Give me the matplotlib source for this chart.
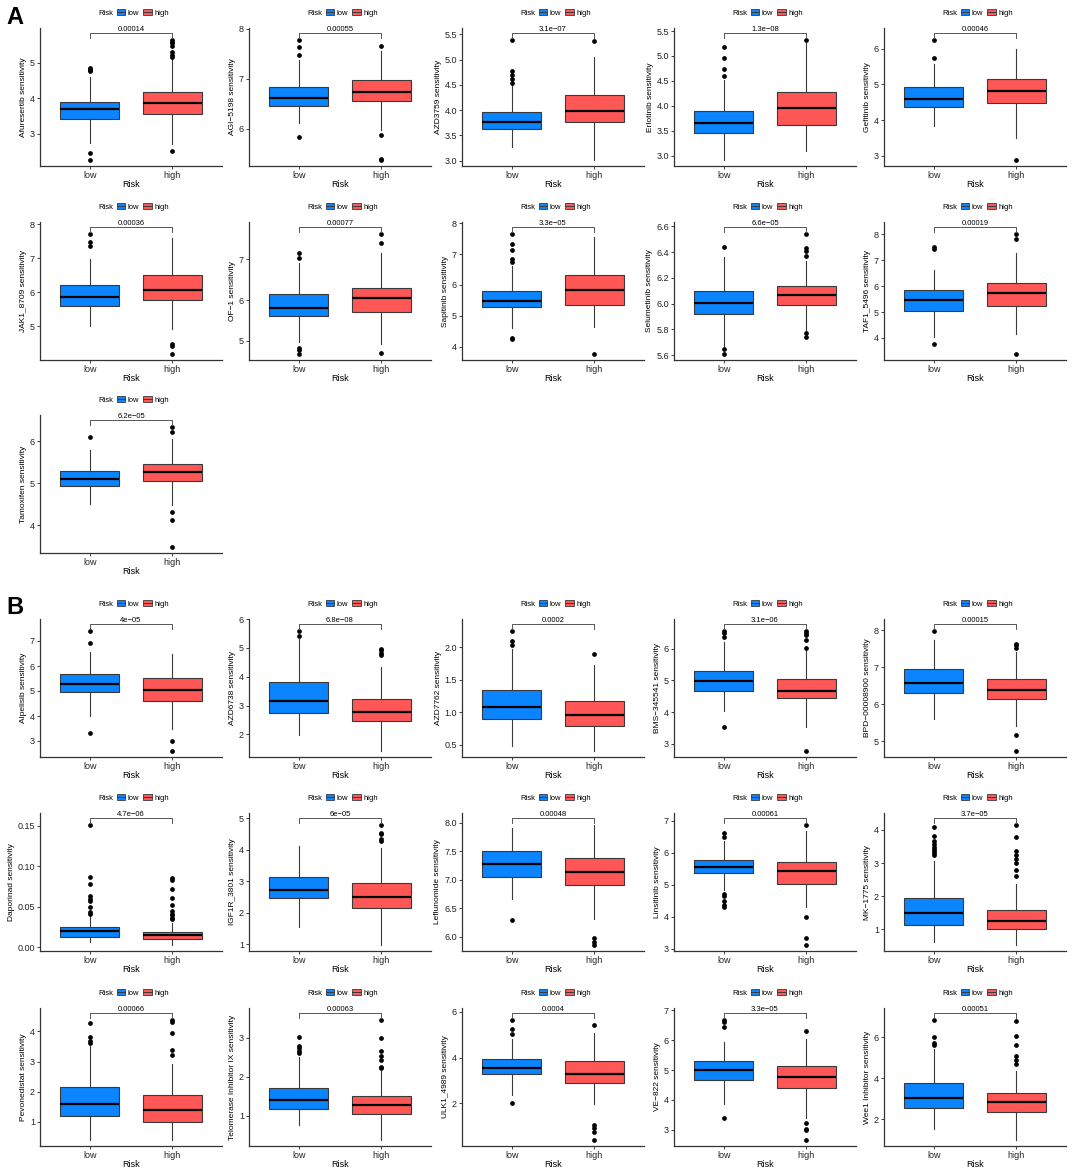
import matplotlib
matplotlib.use("Agg")
import matplotlib.pyplot as plt
from matplotlib.patches import Patch
from matplotlib.lines import Line2D
from matplotlib.ticker import MultipleLocator

plt.rcParams['font.family'] = ['Liberation Sans', 'DejaVu Sans']

LOW_COLOR = '#0A84FF'
HIGH_COLOR = '#FF5656'
EDGE = '#3a3a3a'

# ---- section A ----
drugs_a = ['Afuresertib', 'AGI-5198', 'AZD3759', 'Erlotinib', 'Gefitinib',
           'JAK1_8709', 'OF-1', 'Sapitinib', 'Selumetinib', 'TAF1_5496',
           'Tamoxifen']
pvals_a = ['0.00014', '0.00055', '3.1e-07', '1.3e-08', '0.00046',
           '0.00036', '0.00077', '3.3e-05', '6.6e-05', '0.00019',
           '6.2e-05']
ystep_a = [1, 1, 0.5, 0.5, 1, 1, 1, 1, 0.2, 1, 1]
# whisker low, q1, median, q3, whisker high
low_a = [[2.72, 3.40, 3.69, 3.89, 4.61],
         [6.11, 6.45, 6.61, 6.84, 7.37],
         [3.27, 3.63, 3.77, 3.97, 4.49],
         [2.91, 3.45, 3.65, 3.89, 4.52],
         [3.82, 4.36, 4.59, 4.91, 5.58],
         [5.01, 5.59, 5.87, 6.21, 6.98],
         [4.98, 5.61, 5.80, 6.14, 6.90],
         [4.61, 5.27, 5.47, 5.81, 6.62],
         [5.67, 5.92, 6.005, 6.10, 6.36],
         [4.03, 5.04, 5.46, 5.84, 6.63],
         [4.50, 4.94, 5.09, 5.30, 5.80]]
high_a = [[2.69, 3.56, 3.86, 4.19, 5.12],
          [5.98, 6.55, 6.74, 6.97, 7.56],
          [3.01, 3.76, 3.98, 4.29, 5.05],
          [3.09, 3.61, 3.95, 4.27, 5.25],
          [3.50, 4.48, 4.81, 5.14, 5.98],
          [4.91, 5.76, 6.08, 6.50, 7.59],
          [4.92, 5.70, 6.04, 6.30, 7.16],
          [4.63, 5.36, 5.82, 6.32, 7.55],
          [5.79, 5.99, 6.066, 6.14, 6.33],
          [4.17, 5.23, 5.72, 6.11, 7.26],
          [4.48, 5.05, 5.26, 5.45, 6.06]]
low_out_a = [[4.87, 4.83, 4.80, 4.77, 2.46, 2.25],
             [7.78, 7.64, 7.48, 5.85],
             [5.39, 4.77, 4.70, 4.61, 4.53],
             [5.17, 4.96, 4.73, 4.59],
             [6.24, 5.74],
             [7.71, 7.47, 7.35],
             [7.16, 7.02, 4.82, 4.78, 4.68],
             [7.65, 7.31, 7.14, 6.85, 6.73, 4.29, 4.24],
             [6.44, 5.65, 5.61],
             [7.50, 7.44, 3.75],
             [6.09]]
high_out_a = [[5.65, 5.60, 5.56, 5.49, 5.30, 5.23, 5.17, 2.50],
              [7.66, 5.89, 5.40, 5.38],
              [5.37],
              [5.32],
              [2.88],
              [4.48, 4.42, 4.19],
              [7.62, 7.40, 4.71],
              [3.76],
              [6.54, 6.43, 6.41, 6.37, 5.77, 5.74],
              [8.01, 7.82, 3.38],
              [6.34, 6.22, 4.31, 4.12, 3.48]]

# ---- section B ----
drugs_b = ['Alpelisib', 'AZD6738', 'AZD7762', 'BMS-345541', 'BPD-00008900',
           'Daporinad', 'IGF1R_3801', 'Leflunomide', 'Linsitinib', 'MK-1775',
           'Pevonedistat', 'Telomerase Inhibitor IX', 'ULK1_4989', 'VE-822',
           'Wee1 Inhibitor']
pvals_b = ['4e-05', '6.8e-08', '0.0002', '3.1e-06', '0.00015',
           '4.7e-06', '6e-05', '0.00048', '0.00061', '3.7e-05',
           '0.00066', '0.00063', '0.0004', '3.3e-05', '0.00051']
ystep_b = [1, 1, 0.5, 1, 1,
           0.05, 1, 0.5, 1, 1,
           1, 1, 2, 1, 2]
low_b = [[4.00, 4.95, 5.29, 5.70, 6.57],
         [1.99, 2.75, 3.17, 3.81, 5.30],
         [0.48, 0.90, 1.08, 1.34, 1.97],
         [4.03, 4.66, 4.98, 5.31, 6.20],
         [5.61, 6.29, 6.56, 6.96, 7.73],
         [0.0063, 0.0132, 0.0202, 0.0247, 0.039],
         [1.56, 2.46, 2.72, 3.14, 4.10],
         [6.67, 7.05, 7.28, 7.50, 7.91],
         [4.84, 5.37, 5.56, 5.79, 6.37],
         [0.63, 1.12, 1.50, 1.94, 3.06],
         [0.40, 1.20, 1.61, 2.15, 3.52],
         [0.76, 1.17, 1.39, 1.72, 2.50],
         [2.37, 3.27, 3.55, 3.93, 4.82],
         [3.86, 4.65, 4.99, 5.30, 5.94],
         [1.55, 2.56, 3.07, 3.76, 5.44]]
high_b = [[3.47, 4.59, 5.04, 5.51, 6.48],
          [1.42, 2.45, 2.79, 3.22, 4.35],
          [0.40, 0.78, 0.96, 1.17, 1.73],
          [3.52, 4.44, 4.68, 5.05, 5.96],
          [5.41, 6.14, 6.38, 6.69, 7.42],
          [0.003, 0.0108, 0.0149, 0.0193, 0.0296],
          [0.98, 2.14, 2.50, 2.95, 4.05],
          [6.32, 6.91, 7.13, 7.39, 7.96],
          [4.30, 5.04, 5.44, 5.72, 6.68],
          [0.53, 1.00, 1.26, 1.59, 2.37],
          [0.40, 1.00, 1.41, 1.88, 2.92],
          [0.37, 1.04, 1.26, 1.50, 2.15],
          [1.99, 2.90, 3.30, 3.84, 5.08],
          [3.39, 4.39, 4.78, 5.12, 6.05],
          [1.00, 2.38, 2.83, 3.28, 4.35]]
low_out_b = [[7.40, 6.92, 3.31],
             [5.59, 5.42],
             [2.25, 2.10, 2.03],
             [6.56, 6.50, 6.37, 3.52],
             [7.98],
             [0.151, 0.0868, 0.0786, 0.0631, 0.0602, 0.0574, 0.050, 0.0439, 0.0418],
             [],
             [6.29],
             [6.63, 6.48, 4.71, 4.66, 4.51, 4.37, 4.32],
             [4.10, 3.82, 3.67, 3.57, 3.48, 3.43, 3.36, 3.30, 3.23],
             [4.27, 3.82, 3.69, 3.61],
             [3.03, 2.80, 2.74, 2.66, 2.61],
             [5.64, 5.25, 5.01, 2.03],
             [6.68, 6.61, 6.46, 3.39],
             [6.85, 6.00, 5.73, 5.63]]
high_out_b = [[3.01, 2.60],
              [4.98, 4.93, 4.82, 4.75],
              [1.90],
              [6.56, 6.51, 6.44, 6.29, 6.03, 2.77],
              [7.64, 7.60, 7.51, 5.17, 4.73],
              [0.0856, 0.0835, 0.0717, 0.061, 0.052, 0.0447, 0.0418, 0.0398, 0.0369, 0.0345],
              [4.78, 4.54, 4.49, 4.33, 4.28],
              [5.99, 5.92, 5.86],
              [6.87, 3.99, 3.33, 3.12],
              [4.15, 3.79, 3.38, 3.26, 3.13, 3.00, 2.80, 2.62],
              [4.38, 4.31, 3.96, 3.39, 3.23],
              [3.46, 2.99, 2.66, 2.54, 2.42, 2.26, 2.22],
              [5.40, 1.06, 0.91, 0.73, 0.40],
              [6.30, 3.23, 3.03, 2.97, 2.65],
              [6.80, 6.08, 5.63, 5.09, 4.88, 4.72]]

W, H = 1072, 1169
fig = plt.figure(figsize=(W / 100, H / 100), dpi=100)

col_left = [40, 249, 462, 674, 884]
ax_w = 182
ax_h = 138
rows_a = [13, 207, 400]
rows_b = [604, 798, 993]


def stats(v, out):
    return dict(whislo=v[0], q1=v[1], med=v[2], q3=v[3], whishi=v[4], fliers=out)


def minus(s):
    return s.replace('-', '\u2212')


def draw_panel(legend_y, col, name, pval, step, lv, hv, lo_out, hi_out):
    top = legend_y + 15
    ax = fig.add_axes([col_left[col] / W, 1 - (top + ax_h) / H, ax_w / W, ax_h / H])
    bp = ax.bxp([stats(lv, lo_out), stats(hv, hi_out)], positions=[1, 2],
                widths=0.72, patch_artist=True, showcaps=False,
                boxprops=dict(edgecolor=EDGE, linewidth=0.8),
                whiskerprops=dict(color=EDGE, linewidth=0.8),
                medianprops=dict(color='black', linewidth=1.6),
                flierprops=dict(marker='o', markerfacecolor='black',
                                markeredgecolor='black', markersize=2.4))
    for box, c in zip(bp['boxes'], [LOW_COLOR, HIGH_COLOR]):
        box.set_facecolor(c)

    everything = lv + hv + lo_out + hi_out
    lo, hi = min(everything), max(everything)
    rng = hi - lo
    b = hi + 0.055 * rng
    tip = 0.035 * rng
    ax.plot([1, 1, 2, 2], [b - tip, b, b, b - tip], color='#555555', lw=0.7)
    ax.text(1.5, b + 0.005 * rng, minus(pval), ha='center', va='bottom', fontsize=5.5)

    ax.set_xlim(0.4, 2.6)
    ax.set_ylim(lo - 0.05 * rng, hi + 0.10 * rng)
    ax.yaxis.set_major_locator(MultipleLocator(step))
    ax.set_xticks([1, 2])
    ax.set_xticklabels(['low', 'high'])
    ax.tick_params(labelsize=6.5, length=2.5, width=0.6, pad=1.2, colors='#222222')
    for s in ['top', 'right']:
        ax.spines[s].set_visible(False)
    for s in ['left', 'bottom']:
        ax.spines[s].set_linewidth(0.9)
        ax.spines[s].set_color('#333333')
    ax.set_xlabel('Risk', fontsize=6.5, labelpad=0)
    ax.set_ylabel(minus(name) + ' sensitivity', fontsize=6, labelpad=2)

    handles = [Line2D([], [], linestyle='none'),
               (Patch(facecolor=LOW_COLOR, edgecolor=EDGE, lw=0.6),
                Line2D([], [], color=EDGE, lw=0.7)),
               (Patch(facecolor=HIGH_COLOR, edgecolor=EDGE, lw=0.6),
                Line2D([], [], color=EDGE, lw=0.7))]
    fig.legend(handles, ['Risk', 'low', 'high'], ncol=3, loc='center',
               bbox_to_anchor=((col_left[col] + ax_w / 2 - 3) / W, 1 - legend_y / H),
               frameon=False, fontsize=5.5, handlelength=1.1, handleheight=0.9,
               handletextpad=0.35, columnspacing=0.5, borderpad=0)
    return ax


for i in range(len(drugs_a)):
    draw_panel(rows_a[i // 5], i % 5, drugs_a[i], pvals_a[i], ystep_a[i],
               low_a[i], high_a[i], low_out_a[i], high_out_a[i])

for i in range(len(drugs_b)):
    draw_panel(rows_b[i // 5], i % 5, drugs_b[i], pvals_b[i], ystep_b[i],
               low_b[i], high_b[i], low_out_b[i], high_out_b[i])

fig.text(6 / W, 1 - 17 / H, 'A', fontsize=17, fontweight='bold', va='center')
fig.text(6 / W, 1 - 607 / H, 'B', fontsize=17, fontweight='bold', va='center')

fig.savefig('out.png', dpi=100)
